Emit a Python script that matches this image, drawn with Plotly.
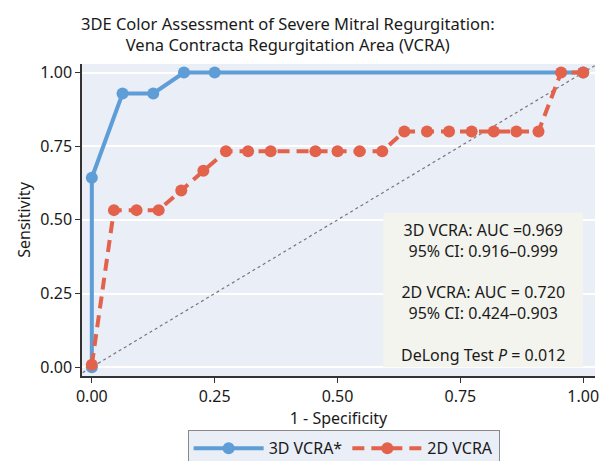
import plotly.graph_objects as go

# 3D VCRA ROC curve
fpr_3d = [0.0, 0.0, 0.0625, 0.125, 0.1875, 0.25, 1.0]
tpr_3d = [0.0, 0.643, 0.929, 0.929, 1.0, 1.0, 1.0]

# 2D VCRA ROC curve
fpr_2d = [0.0, 0.045, 0.091, 0.136, 0.182, 0.227, 0.273, 0.318, 0.364,
          0.455, 0.5, 0.545, 0.591, 0.636, 0.682, 0.727, 0.773, 0.818,
          0.864, 0.909, 0.955, 1.0]
tpr_2d = [0.008, 0.533, 0.533, 0.533, 0.6, 0.667, 0.733, 0.733, 0.733,
          0.733, 0.733, 0.733, 0.733, 0.8, 0.8, 0.8, 0.8, 0.8,
          0.8, 0.8, 1.0, 1.0]

ref_line = [-0.05, 1.05]
tick_vals = [0.0, 0.25, 0.5, 0.75, 1.0]
tick_text = ["0.00", "0.25", "0.50", "0.75", "1.00"]

title_text = ("3DE Color Assessment of Severe Mitral Regurgitation:<br>"
              "Vena Contracta Regurgitation Area (VCRA)")
stats_text = ("3D VCRA: AUC =0.969<br>95% CI: 0.916–0.999<br><br>"
              "2D VCRA: AUC = 0.720<br>95% CI: 0.424–0.903<br><br>"
              "DeLong Test <i>P</i> = 0.012")

BLUE = "#5E9DD6"
RED = "#E3624B"
FONT = "Noto Sans"
TXT = "#1a1a1a"

fig = go.Figure()
fig.add_trace(go.Scatter(x=ref_line, y=ref_line, mode="lines",
                         line=dict(color="#777777", width=1.2, dash="dot"),
                         showlegend=False, hoverinfo="skip"))
fig.add_trace(go.Scatter(x=fpr_3d, y=tpr_3d, mode="lines+markers", name="3D VCRA*",
                         line=dict(color=BLUE, width=4),
                         marker=dict(color=BLUE, size=12)))
fig.add_trace(go.Scatter(x=fpr_2d, y=tpr_2d, mode="lines+markers", name="2D VCRA",
                         line=dict(color=RED, width=4, dash="12px,7px"),
                         marker=dict(color=RED, size=12)))

fig.add_shape(type="rect", xref="x", yref="y", x0=0.593, x1=1.0, y0=0.0, y1=0.525,
              fillcolor="#F3F4EE", line=dict(width=0), layer="above")
fig.add_annotation(x=0.797, y=0.254, xref="x", yref="y", text=stats_text,
                   showarrow=False, align="center",
                   font=dict(family=FONT, size=16, color=TXT))
fig.add_annotation(x=0.401, y=1.173, xref="paper", yref="paper", text=title_text,
                   showarrow=False, align="center", xanchor="center", yanchor="top",
                   font=dict(family=FONT, size=16.5, color=TXT))

fig.update_layout(
    width=610, height=461,
    margin=dict(l=74, r=23, t=56, b=93),
    paper_bgcolor="white",
    plot_bgcolor="#E9EEF7",
    font=dict(family=FONT, size=15, color=TXT),
    showlegend=True,
    legend=dict(orientation="h", x=0.51, xanchor="center",
                yref="container", y=0.084, yanchor="top",
                bgcolor="#E9EEF7", bordercolor="#888888", borderwidth=1,
                font=dict(family=FONT, size=16, color=TXT), itemwidth=70),
)
fig.update_xaxes(range=[-0.02, 1.024], tickvals=tick_vals, ticktext=tick_text,
                 showgrid=False, zeroline=False, showline=True, linecolor="#333333",
                 linewidth=1.5, ticks="outside", ticklen=5, tickcolor="#333333",
                 tickfont=dict(family=FONT, size=16, color=TXT), automargin=False,
                 title=dict(text="1 - Specificity", standoff=2,
                            font=dict(family=FONT, size=16, color=TXT)))
fig.update_yaxes(range=[-0.03, 1.029], tickvals=tick_vals, ticktext=tick_text,
                 showgrid=True, gridcolor="white", gridwidth=1.5, zeroline=False,
                 showline=True, linecolor="#333333", linewidth=1.5,
                 ticks="outside", ticklen=5, tickcolor="#333333",
                 tickfont=dict(family=FONT, size=16, color=TXT), automargin=False,
                 title=dict(text="Sensitivity", standoff=6,
                            font=dict(family=FONT, size=16, color=TXT)))

fig.write_html("out.html")
